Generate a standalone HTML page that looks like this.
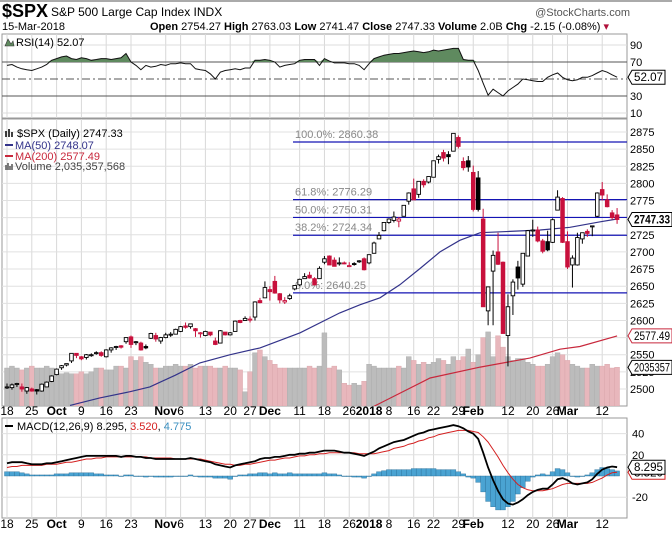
<!DOCTYPE html>
<html><head><meta charset="utf-8">
<style>
body{margin:0;background:#fff;width:672px;height:534px;overflow:hidden;font-family:"Liberation Sans",sans-serif}
svg{display:block}
text{font-family:"Liberation Sans",sans-serif}
</style></head>
<body>
<svg id="chart" width="672" height="534" viewBox="0 0 672 534" xmlns="http://www.w3.org/2000/svg">
<rect x="0" y="0" width="672" height="534" fill="#fff"/>
<line x1="0" y1="1" x2="672" y2="1" stroke="#aaa" stroke-width="2"/>
<g>
<text x="2" y="17" font-size="18" font-weight="bold">$SPX</text>
<text x="51" y="16" font-size="12">S&amp;P 500 Large Cap Index  INDX</text>
<text x="630" y="16" font-size="11" fill="#555" text-anchor="end">@StockCharts.com</text>
<text x="2" y="30" font-size="11">15-Mar-2018</text>
<text x="150" y="30" font-size="11"><tspan font-weight="bold">Open</tspan> 2754.27 <tspan font-weight="bold">High</tspan> 2763.03 <tspan font-weight="bold">Low</tspan> 2741.47 <tspan font-weight="bold">Close</tspan> 2747.33 <tspan font-weight="bold">Volume</tspan> 2.0B <tspan font-weight="bold">Chg</tspan> -2.15 (-0.08%) <tspan fill="#b0103a">▾</tspan></text>
</g>
<g id="rsi"></g>
<g id="main"></g>
<g id="macd"></g>
<g id="axes"></g>
</svg>
<script>
const opens=[2502,2502,2507,2503,2497,2500,2499,2497,2503,2511,
2521,2531,2535,2541,2552,2547,2546,2549,2552,2553,2547,2557,2562,2563,2569,2576,2568,2567,2562,2574,2578,2570,
2575,2579,2580,2584,2592,2591,2588,2581,2578,2583,2570,2567,2583,2579,2584,2600,2600,2602,2605,2629,2633,
2645,2657,2639,2627,2632,2646,2652,2661,2666,2661,2661,2685,2694,2688,2683,2684,2680,2683,2686,2690,
2684,2698,2719,2731,2743,2746,2745,2752,2774,2792,2784,2803,2802,2809,2835,2845,2842,2847,2867,2832,2833,
2816,2808,2748,2614,2672,2700,2685,2578,2636,2678,2653,2694,2732,2732,2716,2715,2714,2761,2778,
2715,2681,2681,2719,2730,2737,2752,2791,2776,2757,2754];
const highs=[2508,2508,2509,2508,2503,2502,2500,2508,2511,2520,
2530,2535,2537,2552,2552,2548,2551,2552,2555,2555,2558,2561,2563,2564,2575,2578,2570,2569,2565,2582,2582,2576,
2582,2583,2588,2592,2597,2595,2589,2583,2585,2583,2575,2586,2583,2583,2600,2601,2606,2606,2628,2633,2657,
2650,2665,2640,2634,2639,2651,2661,2669,2671,2663,2679,2694,2695,2692,2692,2686,2685,2685,2688,2692,
2696,2715,2729,2743,2749,2759,2751,2768,2787,2807,2803,2806,2810,2833,2842,2849,2847,2873,2870,2838,2840,
2826,2818,2763,2638,2702,2728,2686,2638,2660,2687,2696,2732,2747,2737,2719,2731,2749,2790,2780,
2730,2695,2728,2728,2733,2738,2787,2802,2784,2761,2764];
const lows=[2500,2499,2503,2496,2493,2496,2492,2496,2503,2510,
2520,2528,2533,2538,2545,2542,2543,2547,2550,2547,2546,2553,2557,2559,2566,2560,2564,2556,2558,2573,2569,2566,
2574,2576,2580,2583,2588,2588,2576,2575,2577,2577,2564,2567,2578,2578,2584,2596,2600,2597,2600,2625,2633,
2629,2639,2625,2624,2630,2644,2650,2662,2661,2651,2661,2682,2681,2679,2680,2682,2678,2680,2684,2673,
2682,2698,2719,2730,2741,2743,2736,2752,2769,2776,2779,2794,2800,2809,2829,2832,2828,2847,2851,2819,2817,
2759,2759,2696,2593,2593,2681,2581,2533,2608,2645,2649,2694,2722,2714,2698,2701,2713,2761,2713,
2675,2648,2680,2712,2722,2723,2751,2775,2765,2747,2741];
const closes=[2503,2506,2508,2500,2502,2497,2497,2507,2510,2519,
2529,2534,2537,2552,2549,2544,2550,2550,2553,2549,2557,2560,2562,2561,2575,2565,2569,2557,2560,2581,2573,2575,
2579,2580,2587,2591,2590,2595,2585,2582,2584,2579,2565,2585,2579,2582,2599,2597,2603,2602,2627,2626,2648,
2642,2640,2630,2629,2636,2651,2660,2664,2662,2652,2676,2690,2681,2679,2684,2683,2680,2682,2687,2674,
2696,2713,2724,2743,2748,2751,2748,2768,2786,2776,2803,2798,2810,2833,2839,2837,2839,2873,2854,2823,2824,
2762,2762,2620,2649,2695,2682,2581,2620,2656,2662,2698,2731,2732,2716,2701,2703,2747,2780,2714,
2678,2691,2721,2728,2727,2738,2786,2783,2766,2750,2747.33];
const volumes=[2.0,2.1,2.0,1.9,2.0,2.1,2.0,2.0,2.1,2.0,
1.75,1.7,1.75,1.7,1.7,1.8,1.7,1.8,2.0,2.0,1.9,1.9,2.1,2.1,2.0,2.6,2.4,2.6,2.3,2.2,2.0,2.0,
2.1,2.1,2.2,2.1,2.1,2.2,2.0,2.1,2.1,2.1,2.0,2.0,2.1,2.0,2.0,1.9,0.75,1.8,2.8,2.95,2.6,
2.4,2.2,2.0,2.0,2.0,2.0,2.0,2.0,2.1,2.0,2.1,3.85,2.0,2.1,1.9,1.2,1.1,1.2,1.1,1.3,
2.2,2.1,2.0,2.0,2.0,2.0,2.1,2.0,2.6,2.4,2.2,2.3,2.2,2.3,2.5,2.4,2.2,2.6,2.4,2.6,3.0,
2.3,2.7,3.6,3.9,2.6,3.7,3.1,2.6,2.4,2.5,2.5,2.3,2.2,2.1,2.1,2.2,2.6,2.8,2.7,
2.4,2.2,2.1,2.0,2.0,2.2,2.1,2.1,2.2,2.0,2.04];
const rsiValues=[66,67,64,62,61,60,62,64,67,72,
74,76,77,74,73,75,74,72,73,74,74,73,74,75,80,70,66,61,66,64,
65,67,66,68,68,69,68,68,62,61,60,56,50,58,60,61,62,61,63,63,
72,72,73,72,70,64,66,67,68,72,73,73,73,66,74,71,69,69,69,68,
68,66,61,68,74,76,78,79,80,80,81,82,83,82,81,82,84,83,84,85,
86,86,73,72,72,60,45,31,38,34,30,36,40,44,50,49,48,47,47,52,
55,57,52,49,48,49,52,52,54,57,60,58,55,52.07];
const macdValues=[12,13,13,13,12,11,11,11,12,12,
13,14,15,16,17,18,19,19,19,19,19,19,19,18,19,19,18,18,17,17,
16,16,16,16,16,16,16,17,16,15,14,13,11,10,9,8,10,11,12,13,
14,16,17,17,18,18,19,20,20,21,21,22,22,23,24,24,24,23,22,22,
21,20,19,21,23,26,28,30,32,33,34,36,38,40,41,43,44,45,46,47,
48,47,45,42,40,35,22,8,-4,-14,-22,-26,-27,-25,-22,-18,-15,-13,-12,-12,
-8,-3,-2,-4,-7,-8,-7,-6,-3,2,6,8,9,8.295];
const signalValues=[8,9,9,10,10,10,10,10,11,11,
11,12,13,13,14,15,16,16,17,17,18,18,18,18,18,18,18,18,18,17,
17,17,17,17,16,16,16,16,16,16,15,14,13,12,11,11,10,10,11,11,
12,13,14,15,15,16,17,17,18,19,19,20,20,21,21,22,22,22,22,22,
22,21,21,21,21,22,23,24,26,27,28,30,31,33,34,36,37,39,40,41,
42,43,43,43,42,41,37,32,25,18,10,3,-3,-8,-11,-13,-14,-14,-14,-13,
-12,-10,-8,-7,-7,-7,-7,-7,-6,-4,-2,1,3,3.52];
const ma50Days=[12.7,18.7,24.8,28.8,33.9,38.9,45,51,59.1,67.1,71.2,75.2,79.2,83.3,87.3,91.3,95.4,101.4,107.5,113.5,119.6,123];
const ma50Values=[2476,2487,2496,2503,2520,2538,2550,2560,2582,2611,2623,2633,2652,2676,2700,2717,2728,2730,2732,2736,2744,2748.07];
const ma200Days=[73.8,85.3,95.4,105.4,111.5,115.5,123];
const ma200Values=[2474,2516,2532,2545,2558,2562,2577.49];
const fibLevels=[2860.38,2776.29,2750.31,2724.34,2640.25];
const fibLabels=["100.0%","61.8%","50.0%","38.2%","0.0%"];
const priceTicks=[2875,2850,2825,2800,2775,2750,2725,2700,2675,2650,2625,2600,2575,2550,2525,2500];
const rsiTicks=[90,70,30,10];
const macdTicks=[40,20,-20];
const dateIdx=[0,5,10,15,20,25,32,35,40,45,49,53,59,64,69,73,77,82,86,91,94,101,106,110,113,120];
const dateLabels=["18","25","Oct","9","16","23","Nov","6","13","20","27","Dec","11","18","26","2018","8","16","22","29","Feb","12","20","26","Mar","12"];
const dateBold=[0,0,1,0,0,0,1,0,0,0,0,1,0,0,0,1,0,0,0,0,1,0,0,0,1,0];

const NS="http://www.w3.org/2000/svg";
const L=2,R=627;
function xOf(i){return 7+i*4.96;}
function yP(p){return 132+(2875-p)*0.6853;}
function yR(v){return 62+(70-v)*0.85;}
function yM(v){return 476-v*1.06;}
function yV(v){return 406-v*19;}
function mk(parent,tag,attrs,txt){const e=document.createElementNS(NS,tag);for(const k in attrs)e.setAttribute(k,attrs[k]);if(txt!==undefined)e.textContent=txt;parent.appendChild(e);return e;}

const svg=document.getElementById('chart');
const defs=mk(svg,'defs',{});
const c1=mk(defs,'clipPath',{id:'clipMain'});mk(c1,'rect',{x:L,y:119,width:R-L,height:287});
const c2=mk(defs,'clipPath',{id:'clipRsi'});mk(c2,'rect',{x:L,y:34,width:R-L,height:84});
const c3=mk(defs,'clipPath',{id:'clipMacd'});mk(c3,'rect',{x:L,y:418,width:R-L,height:100});

function vgrid(g,y1,y2){dateIdx.forEach(i=>{const l=mk(g,'line',{x1:xOf(i),x2:xOf(i),y1:y1,y2:y2,stroke:'#d8d8d8','stroke-width':1});});}

/* RSI panel */
const rg=document.getElementById('rsi');
mk(rg,'rect',{x:L,y:34,width:R-L,height:84,fill:'#fff',stroke:'#999'});
vgrid(rg,34,118);
rsiTicks.forEach(t=>{const y=yR(t);
 const gl=mk(rg,'line',{x1:L,x2:R,y1:y,y2:y,stroke:(t==70||t==30)?'#555':'#ddd'});
 const tx=mk(rg,'text',{x:630,y:y+4,'font-size':11},String(t));});
const mid=mk(rg,'line',{x1:L,x2:R,y1:yR(50),y2:yR(50),stroke:'#555','stroke-dasharray':'8,3,2,3'});

let rp='';rsiValues.forEach((v,i)=>{rp+=(i?'L':'M')+xOf(i).toFixed(1)+','+yR(v).toFixed(1);});
let fp='M'+xOf(0)+','+yR(70);rsiValues.forEach((v,i)=>{fp+='L'+xOf(i).toFixed(1)+','+yR(Math.max(v,70)).toFixed(1);});fp+='L'+xOf(rsiValues.length-1)+','+yR(70)+'Z';
const rf=mk(rg,'path',{d:fp,fill:'#5f8a5f',stroke:'none','clip-path':'url(#clipRsi)'});
const rl=mk(rg,'path',{d:rp,fill:'none',stroke:'#111','stroke-width':1,'clip-path':'url(#clipRsi)'});
const rlg=mk(rg,'text',{x:16,y:46,'font-size':11},'RSI(14) 52.07');
const ric=mk(rg,'path',{d:'M5,46 L8,39 L11,44 L13,41 L14,46 Z',fill:'#5f8a5f',stroke:'#333','stroke-width':0.6});
function tag(g,y,label,color,bold,name){
 const w=Math.min(label.length*5.8+4,40);
 const p=mk(g,'path',{d:`M${R+1},${y} L${R+5},${y-7} L${R+5+w},${y-7} L${R+5+w},${y+7} L${R+5},${y+7} Z`,fill:'#fff',stroke:color,'stroke-width':1});
 
 const t=mk(g,'text',{x:R+7,y:y+4,'font-size':11.5,'font-weight':bold?'bold':'normal',fill:'#000',textLength:w-4,lengthAdjust:'spacingAndGlyphs'},label);
 }
tag(rg,yR(52.07),'52.07','#000',false,'rsi-last');

/* Main panel */
const mg=document.getElementById('main');
mk(mg,'rect',{x:L,y:119,width:R-L,height:287,fill:'#fff',stroke:'#999'});
vgrid(mg,119,406);
priceTicks.forEach(t=>{const y=yP(t);
 const gl=mk(mg,'line',{x1:L,x2:R,y1:y,y2:y,stroke:'#e0e0e0'});
 const tx=mk(mg,'text',{x:630,y:y+4,'font-size':11},String(t));});
const vg=mk(mg,'g',{'clip-path':'url(#clipMain)'});
volumes.forEach((v,i)=>{const down=i>0&&closes[i]<closes[i-1];
 const b=mk(vg,'rect',{x:xOf(i)-2.5,y:yV(v),width:4.96,height:406-yV(v),fill:down?'#e8b7bc':'#bcbcbc',stroke:down?'#d9a3a9':'#aaa','stroke-width':0.4});
 });
fibLevels.forEach((f,k)=>{const y=yP(f);
 const l=mk(mg,'line',{x1:293,x2:R,y1:y,y2:y,stroke:'#1414b4','stroke-width':1.2});
 const t=mk(mg,'text',{x:295,y:y-4,'font-size':11,fill:'#888'},fibLabels[k]+': '+f.toFixed(2));});
function maPath(days,vals){let d='';days.forEach((di,k)=>{d+=(k?'L':'M')+xOf(di).toFixed(1)+','+yP(vals[k]).toFixed(1);});return d;}
const m200=mk(mg,'path',{d:maPath(ma200Days,ma200Values),fill:'none',stroke:'#c8283c','stroke-width':1.2,'clip-path':'url(#clipMain)'});
const m50=mk(mg,'path',{d:maPath(ma50Days,ma50Values),fill:'none',stroke:'#33338a','stroke-width':1.2,'clip-path':'url(#clipMain)'});
closes.forEach((c,i)=>{const o=opens[i],x=xOf(i);const down=i>0&&c<closes[i-1];const col=down?'#c8103c':'#000';
 const w=mk(mg,'line',{x1:x,x2:x,y1:yP(highs[i]),y2:yP(lows[i]),stroke:col,'stroke-width':1});
 const top=yP(Math.max(o,c)),bot=yP(Math.min(o,c));
 const b=mk(mg,'rect',{x:x-1.8,y:top,width:3.6,height:Math.max(bot-top,1),fill:c<o?col:'#fff',stroke:col,'stroke-width':0.9});
 });
const lg=mk(mg,'g',{'font-size':11});
mk(lg,'text',{x:17,y:137},'$SPX (Daily) 2747.33');
mk(lg,'path',{d:'M6,131v6M9,129v8M12,132v5',stroke:'#000','stroke-width':1.5});
mk(lg,'line',{x1:5,x2:13,y1:145,y2:145,stroke:'#33338a','stroke-width':2});
mk(lg,'text',{x:15,y:149,fill:'#33338a'},'MA(50) 2748.07');
mk(lg,'line',{x1:5,x2:13,y1:156,y2:156,stroke:'#c8283c','stroke-width':2});
mk(lg,'text',{x:15,y:160,fill:'#c8283c'},'MA(200) 2577.49');
mk(lg,'path',{d:'M6,170v-5M8,170v-7M10,170v-4M12,170v-6',stroke:'#555','stroke-width':1.5});
mk(lg,'text',{x:15,y:170,fill:'#444'},'Volume 2,035,357,568');
tag(mg,yV(2.035),'2035357','#000',false,'volume-last');
tag(mg,yP(2577.49),'2577.49','#c8283c',false,'ma200-last');
tag(mg,yP(2747.33),'2747.33','#000',true,'price-last');

/* MACD panel */
const cg=document.getElementById('macd');
mk(cg,'rect',{x:L,y:418,width:R-L,height:100,fill:'#fff',stroke:'#999'});
vgrid(cg,418,518);
macdTicks.forEach(t=>{const y=yM(t);
 const gl=mk(cg,'line',{x1:L,x2:R,y1:y,y2:y,stroke:'#e0e0e0'});
 const tx=mk(cg,'text',{x:632,y:y+4,'font-size':11},String(t));});
const hg=mk(cg,'g',{'clip-path':'url(#clipMacd)'});
macdValues.forEach((m,i)=>{const h=m-signalValues[i];const y0=yM(0),y1=yM(h);
 const b=mk(hg,'rect',{x:xOf(i)-2.5,y:Math.min(y0,y1),width:4.96,height:Math.max(Math.abs(y1-y0),0.5),fill:'#4aa3d2',stroke:'#2a6f98','stroke-width':0.4});
 });
let sp='',mp='';signalValues.forEach((v,i)=>{sp+=(i?'L':'M')+xOf(i).toFixed(1)+','+yM(v).toFixed(1);});
macdValues.forEach((v,i)=>{mp+=(i?'L':'M')+xOf(i).toFixed(1)+','+yM(v).toFixed(1);});
const sl=mk(cg,'path',{d:sp,fill:'none',stroke:'#d42020','stroke-width':1});
const ml=mk(cg,'path',{d:mp,fill:'none',stroke:'#000','stroke-width':1.8});
const mlg=mk(cg,'text',{x:17,y:430,'font-size':11});
mlg.innerHTML='MACD(12,26,9) 8.295, <tspan fill="#d42020">3.520</tspan>, <tspan fill="#3a8fc0">4.775</tspan>';
mk(cg,'line',{x1:5,x2:13,y1:426,y2:426,stroke:'#000','stroke-width':2});
tag(cg,yM(3.52),'3.520','#d42020',false,'macd-signal-last');
tag(cg,yM(8.295),'8.295','#000',false,'macd-last');

/* Date axes */
const ag=document.getElementById('axes');
[415,528].forEach(yb=>{dateIdx.forEach((di,k)=>{
 const t=mk(ag,'text',{x:xOf(di),y:yb,'font-size':12,'text-anchor':'middle','font-weight':dateBold[k]?'bold':'normal'},dateLabels[k]);
 });});
</script>
</body></html>
